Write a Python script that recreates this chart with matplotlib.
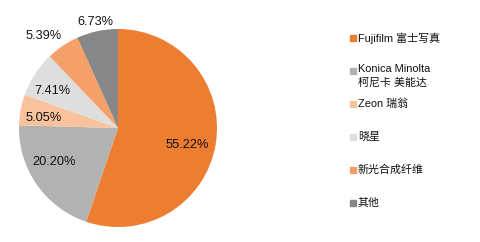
import numpy as np
import matplotlib.pyplot as plt
from matplotlib.patches import Rectangle

plt.rcParams["font.family"] = ["Liberation Sans", "Noto Sans CJK SC", "DejaVu Sans"]

labels = ["Fujifilm 富士写真", "Konica Minolta\n柯尼卡 美能达", "Zeon 瑞翁", "晓星", "新光合成纤维", "其他"]
shares = [55.22, 20.20, 5.05, 7.41, 5.39, 6.73]
colors = ["#ED7D31", "#B2B2B2", "#F8C29C", "#DEDEDE", "#F4A068", "#878787"]
# label placement: distance from centre (fraction of radius) and angle nudge (deg)
label_dist = [0.72, 0.73, 0.76, 0.76, 1.2, 1.09]
label_turn = [-4.4, -6.8, 3.0, 3.3, 5.0, 0.0]

W, H = 480, 242
fig = plt.figure(figsize=(W / 100, H / 100), dpi=100)

# pie centre ~ (118, 128) px, radius ~ 99 px
cx, cy, r = 118, 128, 99
ax = fig.add_axes([(cx - r) / W, (H - cy - r) / H, 2 * r / W, 2 * r / H])
wedges, _ = ax.pie(shares, colors=colors, startangle=90, counterclock=False,
                   wedgeprops=dict(linewidth=0))
ax.set_xlim(-1, 1)
ax.set_ylim(-1, 1)
ax.set_aspect("equal")
ax.axis("off")

for w, s, d, t in zip(wedges, shares, label_dist, label_turn):
    ang = np.deg2rad((w.theta1 + w.theta2) / 2 + t)
    ax.text(d * np.cos(ang), d * np.sin(ang), f"{s:.2f}%", ha="center", va="center",
            fontsize=9.2, color="#111111", clip_on=False)

# legend drawn by hand, one entry every ~33 px
y0, step = 38, 33
for i, (lab, c) in enumerate(zip(labels, colors)):
    y = y0 + i * step
    fig.patches.append(Rectangle((350 / W, (H - y - 3) / H), 6 / W, 6 / H,
                                 transform=fig.transFigure, color=c))
    if "\n" in lab:
        # two-line entry: square lines up with the first line
        fig.text(358 / W, (H - y + 6.5) / H, lab, ha="left", va="top",
                 fontsize=7.9, color="#111111", linespacing=1.3)
    else:
        fig.text(358 / W, (H - y) / H, lab, ha="left", va="center",
                 fontsize=7.9, color="#111111")

fig.savefig("out.png", dpi=100)
